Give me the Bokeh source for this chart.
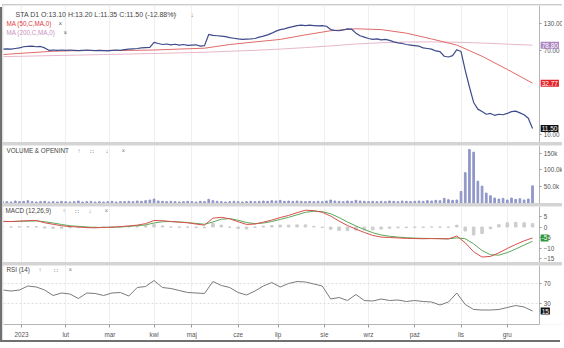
from bokeh.plotting import figure
from bokeh.layouts import column
from bokeh.models import Range1d, FixedTicker, NumeralTickFormatter, Label, Grid
from bokeh.embed import file_html
from bokeh.resources import INLINE

# ---------------- data ----------------
# trading-day index (0 = 19 Dec 2022), sampled every 2 sessions
close_idx = list(range(0, 253, 2))
close = [
    72, 72.5, 72, 73, 74, 76, 76.5, 77, 76, 76.5,
    74, 70, 70.5, 70, 70.5, 70, 70.5, 70, 69.5, 70,
    70.5, 70, 69.5, 70, 69.5, 69, 70, 70.5, 70, 71,
    72, 72.5, 73, 74, 74.5, 75, 84, 82, 80, 81,
    79.5, 80.5, 79, 80, 78.5, 79, 79.5, 77, 78, 101,
    99, 98, 97, 96, 94, 92.5, 91, 90, 90.5, 91,
    92, 95, 97, 100, 104, 109, 113, 115, 118, 121,
    124, 125, 124, 125, 124, 123, 124, 122, 113, 111,
    110, 112, 115, 114, 104, 98, 95, 92, 90, 91,
    89, 90, 88, 85, 83, 82, 80, 79, 78, 77,
    74, 73, 72, 69, 68, 61, 60, 62, 71, 68,
    44, 30, 21, 18, 17, 16, 16.3, 15.6, 16, 15.8,
    16.3, 17, 17.2, 16.5, 15.8, 14.6, 11.5,
]
volume_k = [
    5, 4, 3, 6, 4, 5, 7, 4, 3, 4,
    5, 3, 4, 3, 5, 4, 3, 4, 6, 3,
    4, 5, 3, 4, 3, 4, 5, 3, 4, 4,
    5, 4, 6, 5, 7, 9, 12, 6, 5, 4,
    5, 4, 3, 4, 5, 4, 3, 5, 4, 11,
    7, 5, 4, 3, 4, 5, 4, 3, 4, 5,
    4, 5, 6, 5, 7, 6, 8, 5, 6, 5,
    6, 5, 4, 5, 4, 5, 4, 6, 9, 6,
    5, 4, 6, 5, 8, 6, 5, 4, 5, 4,
    5, 4, 6, 5, 4, 6, 5, 4, 5, 6,
    5, 7, 6, 8, 7, 14, 10, 8, 9, 35,
    92, 162, 154, 66, 51, 30, 22, 15, 12, 14,
    9, 15, 11, 13, 9, 12, 52,
]

ma_idx = list(range(0, 253, 12))
ma50 = [63.5, 66, 68.5, 69.5, 69.8, 69.8, 70.5, 72, 73.5, 80, 85,
        90, 100, 110, 115, 113, 104, 91, 79, 61, 45, 32.77]
ma200 = [60.5, 61.2, 62, 62.7, 63.5, 64.2, 65, 66, 67, 68.5, 70,
         72, 74.5, 77.5, 81, 83.5, 84.8, 85, 84.3, 82.8, 80.8, 78.8]

ind_idx = list(range(0, 253, 4))
macd = [
    2.7, 2.6, 2.8, 3.0, 3.1, 2.0, 1.3, 0.6, 0.2, 0.0,
    -0.3, -0.4, -0.2, -0.1, 0.2, 0.5, 0.9, 1.6, 3.1, 3.0,
    2.6, 2.3, 2.0, 1.4, 0.9, 4.2, 4.6, 3.9, 2.5, 1.2,
    1.4, 2.3, 3.3, 4.5, 5.5, 6.8, 8.0, 7.8, 7.0, 5.2,
    2.8, 0.7, -1.0, -2.6, -4.0, -4.8, -5.0, -5.2, -5.4, -5.5,
    -5.6, -5.5, -5.6, -5.7, -4.3, -7.5, -11.8, -14.3, -14.0, -12.3,
    -10.2, -8.3, -6.6, -5.2,
]
signal = [
    2.6, 2.6, 2.7, 2.8, 2.9, 2.5, 1.9, 1.2, 0.6, 0.3,
    0.0, -0.2, -0.2, -0.1, 0.0, 0.3, 0.6, 1.0, 1.9, 2.5,
    2.6, 2.4, 2.1, 1.7, 1.3, 2.4, 3.7, 4.0, 3.2, 2.1,
    1.6, 1.9, 2.6, 3.6, 4.6, 5.8, 7.0, 7.5, 7.3, 6.3,
    4.5, 2.4, 0.5, -1.2, -2.7, -3.8, -4.4, -4.8, -5.1, -5.3,
    -5.4, -5.5, -5.5, -5.6, -5.2, -5.6, -8.0, -11.2, -13.2, -13.4,
    -12.2, -10.5, -8.6, -6.8,
]
rsi = [
    57, 55, 57, 65, 63, 57, 46, 51, 49, 40,
    51, 50, 46, 51, 52, 45, 62, 64, 76, 62,
    60, 56, 52, 51, 50, 74, 66, 62, 52, 47,
    55, 65, 72, 63, 70, 74, 73, 69, 65, 39,
    42, 36, 48, 36, 35, 39, 36, 37, 34, 36,
    34, 33, 27, 33, 51, 28, 18, 17, 17, 18,
    22, 26, 23, 15,
]

month_idx = [9, 30, 51, 72, 90, 112, 131, 153, 174, 196, 218, 240]
month_labels = ["2023", "lut", "mar", "kwi", "maj", "cze", "lip", "sie",
                "wrz", "paź", "lis", "gru"]

price_ticks = [10, 70, 130]
vol_ticks = [50, 100, 150]
vol_tick_labels = ["50.0k", "100.0k", "150k"]
macd_ticks = [5, 0, -5, -10, -15]
rsi_ticks = [70, 30]

# ---------------- styling ----------------
FONT = "Liberation Sans"
TXT = "#444444"
X0 = 0.4                 # first visible session index (frame left)
AXIS_X = 255.4           # session index where the value axis sits
XR = Range1d(X0, 266.26)  # frame extends over the value-axis strip


def style_axis(ax):
    ax.major_label_text_font = FONT
    ax.major_label_text_font_size = "6.3px"
    ax.major_label_text_color = "#555555"
    ax.axis_line_color = "#b5b5b5"
    ax.major_tick_line_color = "#999999"
    ax.major_tick_out = 2
    ax.major_tick_in = 0
    ax.minor_tick_line_color = None
    ax.major_label_standoff = 2


def panel(fh, yr, ticks, ytype="linear", xaxis=False):
    p = figure(frame_width=559, frame_height=fh, x_range=XR, y_range=yr,
               y_axis_type=ytype, y_axis_location="right",
               x_axis_location="below" if xaxis else None,
               toolbar_location=None, output_backend="svg",
               min_border_left=1, min_border_right=0,
               min_border_top=0, min_border_bottom=0,
               outline_line_color=None,
               background_fill_color="white", border_fill_color="white")
    p.xgrid.visible = False
    p.ygrid.visible = False
    ax = p.yaxis[0]
    ax.ticker = FixedTicker(ticks=list(ticks))
    ax.fixed_location = AXIS_X
    style_axis(ax)
    p.add_layout(Grid(dimension=0, ticker=FixedTicker(ticks=month_idx),
                      grid_line_color="#efefef"))
    return p


def text_at(p, dx, dy, text, color=TXT, size="6.3px"):
    p.add_layout(Label(x=X0, y=p.y_range.end, x_offset=dx, y_offset=-dy,
                       text=text, text_font=FONT, text_font_size=size,
                       text_color=color, text_baseline="middle",
                       text_align="left"))


def tag(p, y, text, bg):
    p.add_layout(Label(x=AXIS_X, y=y, x_offset=1, text=text, text_font=FONT,
                       text_font_size="6.5px", text_color="white",
                       background_fill_color=bg, background_fill_alpha=1.0,
                       text_baseline="middle", text_align="left", padding=1))


# ---------------- price panel ----------------
pp = panel(137, Range1d(8.33, 197), price_ticks, ytype="log")
pp.yaxis[0].formatter = NumeralTickFormatter(format="0.00")
pp.line(ma_idx, ma200, color="#e8b7cb", line_width=1)
pp.line(ma_idx, ma50, color="#e06a6a", line_width=1)
pp.line(close_idx, close, color="#3d4b8c", line_width=1.2)
text_at(pp, 12, 9, "STA D1 O:13.10 H:13.20 L:11.35 C:11.50 (-12.88%)", size="7px")
text_at(pp, 168, 9, "∷", color="#888888", size="7px")
text_at(pp, 187, 9, "↓", color="#888888", size="7px")
text_at(pp, 3, 18, "MA (50,C,MA,0)", color="#e0383c")
text_at(pp, 55, 18, "×", color="#666666")
text_at(pp, 3, 27, "MA (200,C,MA,0)", color="#c98fc0")
text_at(pp, 60, 27, "×", color="#666666")
tag(pp, ma200[-1], f"{ma200[-1]:.2f}", "#ad86c4")
tag(pp, ma50[-1], f"{ma50[-1]:.2f}", "#e3242b")
tag(pp, close[-1], f"{close[-1]:.2f}", "#111111")

# ---------------- volume panel ----------------
pv = panel(58, Range1d(-1.5, 174.2), vol_ticks)
pv.yaxis[0].major_label_overrides = {t: s for t, s in zip(vol_ticks, vol_tick_labels)}
pv.vbar(x=close_idx, top=volume_k, bottom=0, width=0.8, color="#9097c8")
text_at(pv, 3, 5, "VOLUME & OPENINT")
text_at(pv, 74, 5, "↑", color="#888888")
text_at(pv, 86, 5, "∷", color="#888888")
text_at(pv, 102, 5, "↓", color="#888888")
text_at(pv, 118, 5, "×", color="#888888")

# ---------------- MACD panel ----------------
pm = panel(56, Range1d(-16.9, 9.76), macd_ticks)
hist = [m - s for m, s in zip(macd, signal)]
pm.vbar(x=ind_idx, top=hist, bottom=0, width=1.2, color="#cdcdcd")
pm.line(ind_idx, signal, color="#5aa85a", line_width=1)
pm.line(ind_idx, macd, color="#d9504c", line_width=1)
text_at(pm, 2, 4, "MACD (12,26,9)")
text_at(pm, 59, 4, "↑", color="#888888")
text_at(pm, 71, 4, "∷", color="#888888")
text_at(pm, 85, 4, "↓", color="#888888")
text_at(pm, 101, 4, "×", color="#888888")
tag(pm, macd[-1], "-5", "#2e9a3a")

# ---------------- RSI panel ----------------
pr = panel(59, Range1d(-12, 106), rsi_ticks, xaxis=True)
pr.segment(x0=[X0] * len(rsi_ticks), x1=[AXIS_X] * len(rsi_ticks),
           y0=rsi_ticks, y1=rsi_ticks, line_color="#dddddd",
           line_dash="2 2", line_width=1)
pr.line(ind_idx, rsi, color="#7a7a7a", line_width=1)
text_at(pr, 3, 4, "RSI (14)")
text_at(pr, 35, 4, "↑", color="#888888")
text_at(pr, 50, 4, "∷", color="#888888")
text_at(pr, 65, 4, "×", color="#888888")
tag(pr, rsi[-1], f"{rsi[-1]}", "#111111")
xa = pr.xaxis[0]
xa.ticker = FixedTicker(ticks=month_idx)
xa.major_label_overrides = {t: s for t, s in zip(month_idx, month_labels)}
style_axis(xa)
xa.bounds = (X0, AXIS_X)
xa.major_tick_out = 3
xa.major_label_standoff = 3

layout = column(pp, pv, pm, pr, spacing=3, margin=(5, 0, 0, 2),
                styles={"background-color": "#d4d4d4",
                        "box-shadow": "-2px 2px 0 #707070, 0 -1px 0 #cccccc"})

open("out.html", "w").write(file_html(layout, INLINE))
